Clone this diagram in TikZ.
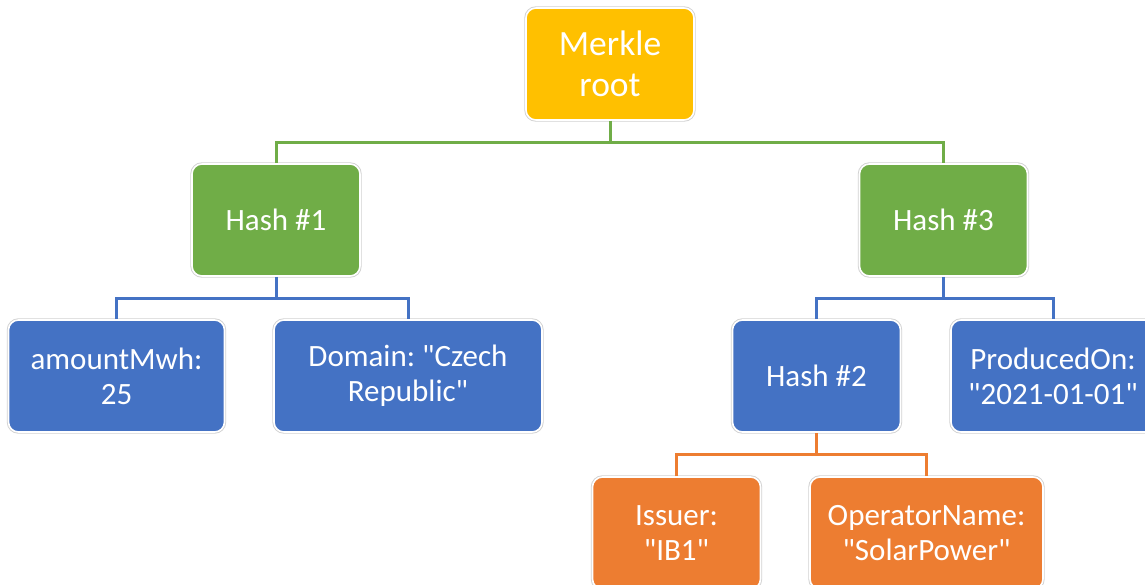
\documentclass[tikz,border=0pt]{standalone}
\usepackage{fontspec}
\defaultfontfeatures{Ligatures=TeXOff}
\setmainfont{Carlito}[Ligatures=TeXOff]
\frenchspacing
\usetikzlibrary{calc}
\definecolor{cyellow}{HTML}{FFC000}
\definecolor{cgreen}{HTML}{70AD47}
\definecolor{cblue}{HTML}{4472C4}
\definecolor{corange}{HTML}{ED7D31}
\tikzset{
  box/.style={rectangle, rounded corners=10pt, inner sep=0pt, align=center,
    text=white, font=\fontsize{31}{35}\selectfont,
    draw=white, line width=1.6pt,
    preaction={draw=black!18, line width=3.4pt}},
  ybox/.style={box, fill=cyellow, font=\fontsize{35.5}{41}\selectfont},
  gbox/.style={box, fill=cgreen},
  bbox/.style={box, fill=cblue},
  obox/.style={box, fill=corange},
  link/.style={line width=3pt},
}
\begin{document}
\begin{tikzpicture}[x=1pt,y=-1pt]
\useasboundingbox (0,0) rectangle (1145,584);
\clip (0,0) rectangle (1145,584);

% tree nodes
\node[ybox, minimum width=168pt, minimum height=112pt] (root) at (610,64) {Merkle\\root};
\node[gbox, minimum width=168pt, minimum height=112pt] (h1) at (276,220) {Hash \#1};
\node[gbox, minimum width=168pt, minimum height=112pt] (h3) at (943.5,220) {Hash \#3};
\node[bbox, minimum width=216pt, minimum height=112pt] (amt) at (116.5,376) {amountMwh:\\25};
\node[bbox, minimum width=268pt, minimum height=112pt] (dom) at (408,376) {Domain: "Czech\\Republic"};
\node[bbox, minimum width=168pt, minimum height=112pt] (h2) at (816.5,376) {Hash \#2};
\node[bbox, minimum width=204pt, minimum height=112pt] (prod) at (1053,376) {ProducedOn:\\"2021-01-01"};
\node[obox, minimum width=168pt, minimum height=112pt] (iss) at (676.5,533) {Issuer:\\"IB1"};
\node[obox, minimum width=233pt, minimum height=112pt] (op) at (926.5,533) {OperatorName:\\"SolarPower"};

% junction points of the elbow connectors
\coordinate (j0) at ($(root.south)!0.5!(root.south |- h1.north)$);
\coordinate (j1) at ($(h1.south)!0.5!(h1.south |- amt.north)$);
\coordinate (j3) at ($(h3.south)!0.5!(h3.south |- h2.north)$);
\coordinate (j2) at ($(h2.south)!0.5!(h2.south |- iss.north)$);

% connectors
\draw[link, cgreen] (root.south) -- (j0);
\draw[link, cgreen] (h1.north) |- (j0) -| (h3.north);
\draw[link, cblue] (h1.south) -- (j1);
\draw[link, cblue] (amt.north) |- (j1) -| (dom.north);
\draw[link, cblue] (h3.south) -- (j3);
\draw[link, cblue] (h2.north) |- (j3) -| (prod.north);
\draw[link, corange] (h2.south) -- (j2);
\draw[link, corange] (iss.north) |- (j2) -| (op.north);
\end{tikzpicture}
\end{document}
